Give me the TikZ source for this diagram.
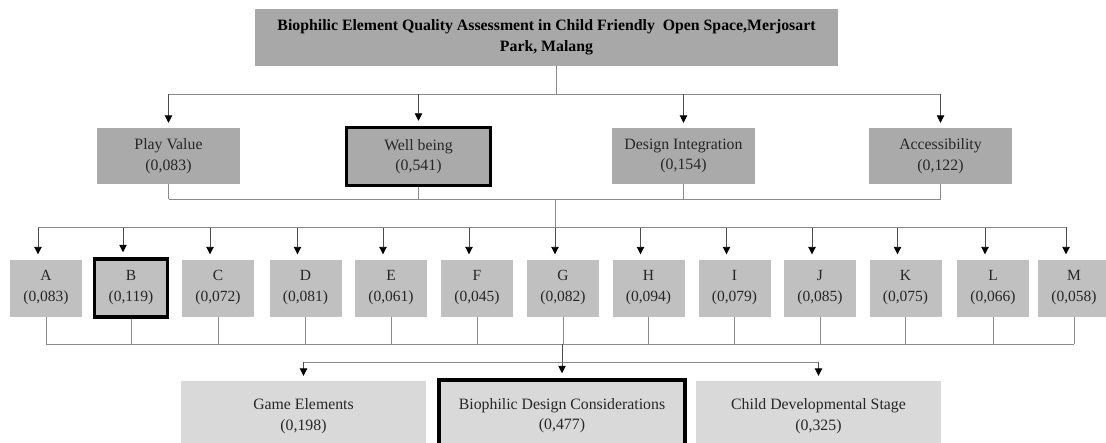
\documentclass[tikz,border=0pt]{standalone}
\usepackage{fontspec}
\setmainfont{Liberation Serif}
\usepackage{tikz}
\usetikzlibrary{arrows.meta, positioning}

\definecolor{goalgray}{HTML}{A8A8A8}
\definecolor{critgray}{HTML}{AAAAAA}
\definecolor{subgray}{HTML}{C0C0C0}
\definecolor{altgray}{HTML}{D9D9D9}
\definecolor{linegray}{HTML}{8A8A8A}

\tikzset{
    box/.style={fill=critgray, align=center, inner sep=0pt, text=black!85,
        minimum width=143pt, minimum height=56pt, font=\fontsize{15.8}{20.5}\selectfont},
    best/.style={draw=black, line width=3.5pt},
    sub/.style={box, fill=subgray, minimum width=72pt, minimum height=57pt,
        font=\fontsize{15.5}{21}\selectfont},
    subbest/.style={sub, best, minimum width=73pt, minimum height=58pt},
    alt/.style={box, fill=altgray, minimum width=245pt, minimum height=70pt},
    link/.style={draw=linegray, line width=0.9pt},
    arr/.style={draw=black!70, line width=0.9pt,
        -{Triangle[width=7.5pt,length=7.5pt,color=black]}, shorten >=5pt},
}

\begin{document}
\begin{tikzpicture}[x=1pt, y=-1pt]
    \useasboundingbox (0,0) rectangle (1106,442);

    % Goal on top
    \node[box, fill=goalgray, text=black, minimum width=583pt, minimum height=57pt,
        font=\bfseries\fontsize{15.8}{21}\selectfont] (goal) at (546.5,37.5)
        {Biophilic Element Quality Assessment in Child Friendly\ \ Open Space,Merjosart\\Park, Malang};

    % Criteria
    \node[box] (play) at (168.5,156) {Play Value\\(0,083)};
    \node[box, best, minimum width=144pt, minimum height=58pt] (well) at (418.5,156.5) {Well being\\(0,541)};
    \node[box] (design) at (683.5,156) {Design Integration\\(0,154)};
    \node[box] (access) at (940.5,156) {Accessibility\\(0,122)};

    % Bus lines
    \coordinate (top) at (556,94);
    \coordinate (mid) at (555,199);
    \coordinate (join) at (555,227);
    \coordinate (low) at (562,344);
    \coordinate (split) at (562,362);

    \draw[link] (goal.south -| top) -- (top);
    \draw[link] (play.north |- top) -- (access.north |- top);
    \foreach \c in {play, well, design, access}
        \draw[arr] (\c.north |- top) -- (\c.north);

    \foreach \c in {play, well, design, access}
        \draw[link] (\c.south) -- (\c.south |- mid);
    \draw[link] (play.south |- mid) -- (access.south |- mid);
    \draw[link] (mid) -- (join);

    % Sub-criteria A to M
    \foreach \n/\x/\v/\s in {A/46/{(0,083)}/sub, B/131/{(0,119)}/subbest, C/218/{(0,072)}/sub,
        D/305.5/{(0,081)}/sub, E/391/{(0,061)}/sub, F/477/{(0,045)}/sub, G/563/{(0,082)}/sub,
        H/648.5/{(0,094)}/sub, I/734.5/{(0,079)}/sub, J/820/{(0,085)}/sub, K/905.5/{(0,075)}/sub,
        L/993/{(0,066)}/sub, M/1074/{(0,058)}/sub}
    {
        \node[\s] (\n) at (\x,288) {\n\\\v};
        \draw[arr] ([xshift=-8pt]\n.north |- join) -- ([xshift=-8pt]\n.north);
        \draw[link] (\n.south) -- (\n.south |- low);
    }
    \draw[link] ([xshift=-8pt]A.north |- join) -- ([xshift=-8pt]M.north |- join);
    \draw[link] (A.south |- low) -- (M.south |- low);

    % Alternatives
    \node[alt] (game) at (303.5,416) {Game Elements\\(0,198)};
    \node[alt, best, minimum width=246pt, minimum height=71pt] (bdc) at (562,415.5) {Biophilic Design Considerations\\(0,477)};
    \node[alt] (child) at (818.5,416) {Child Developmental Stage\\(0,325)};

    \draw[arr] (low) -- (bdc.north);
    \draw[link] (game.north |- split) -- (child.north |- split);
    \draw[arr] (game.north |- split) -- (game.north);
    \draw[arr] (child.north |- split) -- (child.north);

\end{tikzpicture}
\end{document}
